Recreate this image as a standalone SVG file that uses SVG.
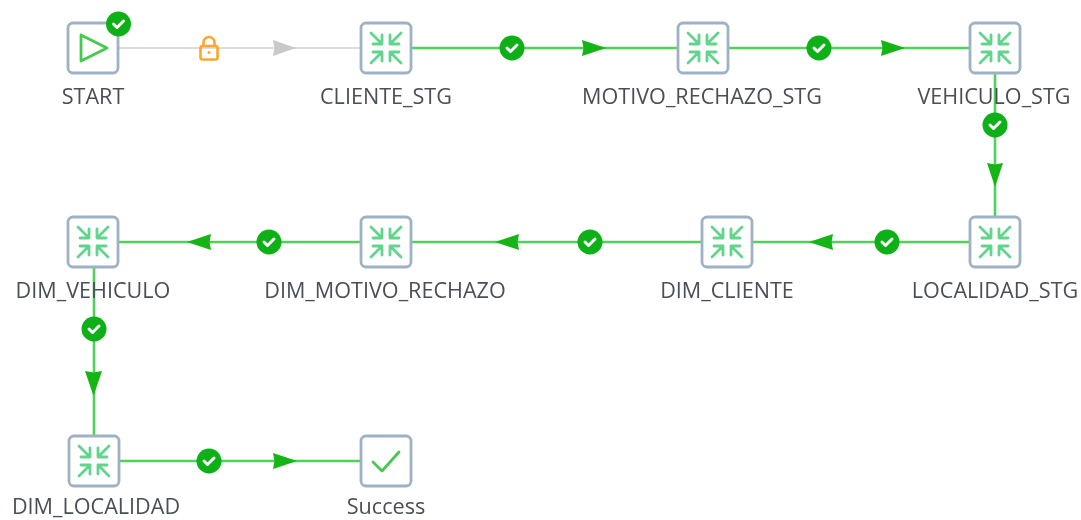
<svg xmlns="http://www.w3.org/2000/svg" width="1081" height="520" viewBox="0 0 1081 520">
<style>
.box{fill:#fff;stroke:#9fb1c4;stroke-width:2.8}
.gl{fill:none;stroke:#62d48c;stroke-width:2.8;stroke-linecap:round;stroke-linejoin:round}
.lbl{font-family:"Open Sans","Noto Sans",sans-serif;font-size:21.6px;fill:#4a4f57;text-anchor:middle}
.ok{stroke:#4fd25a;stroke-width:2.6;fill:none}
.off{stroke:#dcdcdc;stroke-width:2.2;fill:none}
.ah{fill:#12b512}
.ck{fill:none;stroke:#fff;stroke-width:3;stroke-linecap:round;stroke-linejoin:round}
.lock{fill:none;stroke:#ffa52e;stroke-width:2.6}
</style>
<defs>
<filter id="soft" x="-5%" y="-5%" width="110%" height="110%"><feGaussianBlur stdDeviation="0.55"/></filter>
<g id="merge">
<rect class="box" x="-25" y="-25" width="50" height="50" rx="5"/>
<path class="gl" d="M-15-15L-4-4M-4-13V-4H-13M15-15L4-4M4-13V-4H13M-15 15L-4 4M-4 13V4H-13M15 15L4 4M4 13V4H13"/>
</g>
<g id="badge"><circle r="12.500" fill="#0eb014"/><path class="ck" d="M-5 0L-1.500 3.500L5-3"/></g>
</defs>
<g filter="url(#soft)">
<g id="connectors">
<path class="off" d="M119 48H361"/>
<path style="fill:#c9c9c9" d="M273 40L296 48L273 56L274.500 48Z"/>
<g transform="translate(209,48)"><rect class="lock" x="-8.500" y="-2" width="17" height="13.500" rx="2"/><path class="lock" d="M-5.500-2V-5.500A5.500 5.500 0 0 1 5.500-5.500V-2"/><circle cx="0" cy="4.500" r="1.500" fill="#ffa52e"/></g>
<path class="ok" d="M412 48H678"/><path class="ah" d="M582 40L606 48L582 56L583.500 48Z"/><use href="#badge" x="512" y="48"/>
<path class="ok" d="M729 48H970"/><path class="ah" d="M881 40L905 48L881 56L882.500 48Z"/><use href="#badge" x="819" y="48"/>
<path class="ok" d="M995 74V217"/><path class="ah" d="M987 163L995 187L1003 163L995 164.500Z"/><use href="#badge" x="995" y="125"/>
<path class="ok" d="M970 242H753"/><path class="ah" d="M833 234L809 242L833 250L831.500 242Z"/><use href="#badge" x="887" y="242"/>
<path class="ok" d="M702 242H412"/><path class="ah" d="M519 234L495 242L519 250L517.500 242Z"/><use href="#badge" x="590" y="242"/>
<path class="ok" d="M361 242H119"/><path class="ah" d="M211 234L187 242L211 250L209.500 242Z"/><use href="#badge" x="269" y="242"/>
<path class="ok" d="M94 268V436"/><path class="ah" d="M85 371L93.500 396L102 371L93.500 372.500Z"/><use href="#badge" x="94" y="329"/>
<path class="ok" d="M119 461H361"/><path class="ah" d="M273 453L297 461L273 469L274.500 461Z"/><use href="#badge" x="209" y="461"/>
</g>
<g id="start"><rect class="box" x="68" y="23" width="50" height="50" rx="5"/><path d="M81 35L107 48L81 61Z" fill="none" stroke="#45c94f" stroke-width="2.800" stroke-linejoin="round"/><use href="#badge" x="118.500" y="24"/><text class="lbl" x="93" y="104">START</text></g>
<g id="cliente_stg"><use href="#merge" x="386" y="48"/><text class="lbl" x="386" y="104">CLIENTE_STG</text></g>
<g id="motivo_rechazo_stg"><use href="#merge" x="703" y="48"/><text class="lbl" x="702" y="104">MOTIVO_RECHAZO_STG</text></g>
<g id="vehiculo_stg"><use href="#merge" x="995" y="48"/><text class="lbl" x="994" y="104">VEHICULO_STG</text></g>
<g id="localidad_stg"><use href="#merge" x="995" y="242"/><text class="lbl" x="995" y="298">LOCALIDAD_STG</text></g>
<g id="dim_cliente"><use href="#merge" x="727" y="242"/><text class="lbl" x="727" y="298">DIM_CLIENTE</text></g>
<g id="dim_motivo_rechazo"><use href="#merge" x="386" y="242"/><text class="lbl" x="385" y="298">DIM_MOTIVO_RECHAZO</text></g>
<g id="dim_vehiculo"><use href="#merge" x="93" y="242"/><text class="lbl" x="93" y="298">DIM_VEHICULO</text></g>
<g id="dim_localidad"><use href="#merge" x="94" y="461"/><text class="lbl" x="96" y="513.500">DIM_LOCALIDAD</text></g>
<g id="success"><rect class="box" x="361" y="436" width="50" height="50" rx="5"/><path d="M373 462L382 471L399 452" fill="none" stroke="#45c94f" stroke-width="2.800" stroke-linecap="round" stroke-linejoin="round"/><text class="lbl" x="386" y="513.500">Success</text></g>
</g>
</svg>
